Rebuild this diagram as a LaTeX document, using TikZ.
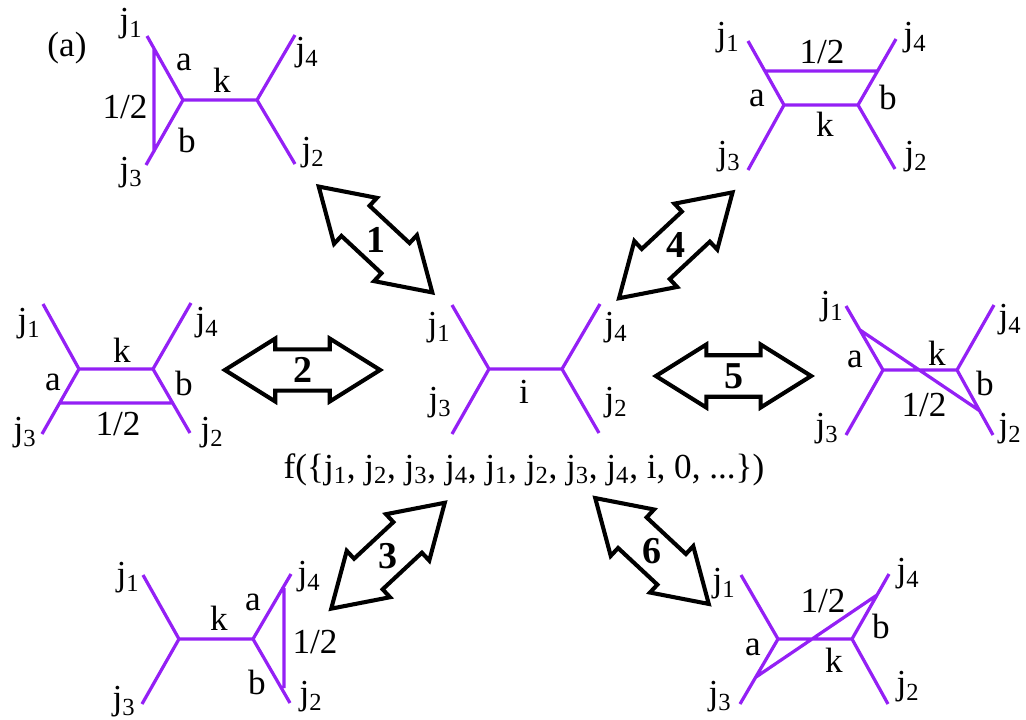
\documentclass[tikz,border=0pt]{standalone}
\usepackage{fontspec}
\setmainfont{Liberation Serif}
\usepackage{xcolor}
\usepackage{tikz}
\usetikzlibrary{shapes.arrows}
\definecolor{linepurple}{HTML}{9420F5}
\newcommand{\jsub}[1]{j\textsubscript{#1}}

\begin{document}
\begin{tikzpicture}[
  x=0.025cm, y=-0.025cm,
  edge/.style    = {linepurple, line width=2.3pt},
  label/.style   = {font=\fontsize{25}{28}\selectfont, inner sep=0pt},
  dblarrow/.style = {draw=black, line width=2.9pt, shape=double arrow, inner sep=0pt,
                    minimum height=3.88cm, minimum width=1.28cm,
                    double arrow head extend=0.27cm, double arrow tip angle=64,
                    shape border uses incircle, font=\fontsize{27}{30}\selectfont\bfseries}
]
\useasboundingbox (0,0) rectangle (1026,719);

% ── Centre graph ─────────────────────────────────────────────────────────────
\coordinate (ca) at (489,369);
\coordinate (cb) at (562,369);
\coordinate (c1) at (452,305);
\coordinate (c3) at (452,434);
\coordinate (c4) at (600,304);
\coordinate (c2) at (599,433);
\draw[edge] (c1) -- (ca) -- (c3) (ca) -- (cb) (c4) -- (cb) -- (c2);
\node[label] (cj1) at (439,328) {\jsub{1}};
\node[label] (cj3) at (440,403) {\jsub{3}};
\node[label] (cj4) at (616,328) {\jsub{4}};
\node[label] (cj2) at (616,403) {\jsub{2}};
\node[label] (ci)  at (524,392) {i};
\node[label] (cf)  at (524,470)
  {f(\{\jsub{1}, \jsub{2}, \jsub{3}, \jsub{4}, \jsub{1}, \jsub{2}, \jsub{3}, \jsub{4}, i, 0, ...\})};

% ── Top left graph ───────────────────────────────────────────────────────────
\coordinate (ta) at (183,100);
\coordinate (tb) at (257,100);
\coordinate (t1) at (147,36);
\coordinate (t3) at (146,165);
\coordinate (t4) at (295,35);
\coordinate (t2) at (295,164);
\coordinate (tu) at (154,48);
\coordinate (tv) at (154,152);
\draw[edge] (t1) -- (ta) -- (t3) (ta) -- (tb) (t4) -- (tb) -- (t2) (tu) -- (tv);
\node[label] (tlabel) at (67,48) {(a)};
\node[label] (tj1) at (131,24)  {\jsub{1}};
\node[label] (tj3) at (131,173) {\jsub{3}};
\node[label] (tj4) at (307,53)  {\jsub{4}};
\node[label] (tj2) at (313,153) {\jsub{2}};
\node[label] (tla) at (184,62)  {a};
\node[label] (tlb) at (187,140) {b};
\node[label] (tlk) at (222,80)  {k};
\node[label] (tlh) at (125,107) {1/2};

% ── Top right graph ──────────────────────────────────────────────────────────
\coordinate (ra) at (784,105);
\coordinate (rb) at (858,105);
\coordinate (r1) at (748,41);
\coordinate (r3) at (748,170);
\coordinate (r4) at (896,39);
\coordinate (r2) at (895,169);
\coordinate (ru) at (766,71);
\coordinate (rv) at (877,71);
\draw[edge] (r1) -- (ra) -- (r3) (ra) -- (rb) (r4) -- (rb) -- (r2) (ru) -- (rv);
\node[label] (rj1) at (728,38)  {\jsub{1}};
\node[label] (rj3) at (729,157) {\jsub{3}};
\node[label] (rj4) at (915,38)  {\jsub{4}};
\node[label] (rj2) at (916,157) {\jsub{2}};
\node[label] (rla) at (757,98)  {a};
\node[label] (rlb) at (888,97)  {b};
\node[label] (rlk) at (825,124) {k};
\node[label] (rlh) at (822,52)  {1/2};

% ── Middle left graph ────────────────────────────────────────────────────────
\coordinate (la) at (79,369);
\coordinate (lb) at (153,369);
\coordinate (l1) at (43,304);
\coordinate (l3) at (42,434);
\coordinate (l4) at (191,303);
\coordinate (l2) at (190,433);
\coordinate (lu) at (59,403);
\coordinate (lv) at (173,403);
\draw[edge] (l1) -- (la) -- (l3) (la) -- (lb) (l4) -- (lb) -- (l2) (lu) -- (lv);
\node[label] (lj1) at (29,324)  {\jsub{1}};
\node[label] (lj3) at (25,433)  {\jsub{3}};
\node[label] (lj4) at (207,323) {\jsub{4}};
\node[label] (lj2) at (212,433) {\jsub{2}};
\node[label] (lla) at (53,382)  {a};
\node[label] (llb) at (184,383) {b};
\node[label] (llk) at (122,350) {k};
\node[label] (llh) at (118,424) {1/2};

% ── Middle right graph ───────────────────────────────────────────────────────
\coordinate (ma) at (883,370);
\coordinate (mb) at (957,370);
\coordinate (m1) at (846,306);
\coordinate (m3) at (846,435);
\coordinate (m4) at (994,305);
\coordinate (m2) at (993,435);
\coordinate (mu) at (860,330);
\coordinate (mv) at (980,411);
\draw[edge] (m1) -- (ma) -- (m3) (ma) -- (mb) (m4) -- (mb) -- (m2) (mu) -- (mv);
\node[label] (mj1) at (832,307) {\jsub{1}};
\node[label] (mj3) at (827,429) {\jsub{3}};
\node[label] (mj4) at (1010,320) {\jsub{4}};
\node[label] (mj2) at (1010,429) {\jsub{2}};
\node[label] (mla) at (855,359) {a};
\node[label] (mlb) at (985,383) {b};
\node[label] (mlk) at (937,353) {k};
\node[label] (mlh) at (924,405) {1/2};

% ── Bottom left graph ────────────────────────────────────────────────────────
\coordinate (ba) at (179,639);
\coordinate (bb) at (253,639);
\coordinate (b1) at (143,575);
\coordinate (b3) at (142,704);
\coordinate (b4) at (291,574);
\coordinate (b2) at (290,703);
\coordinate (bu) at (284,588);
\coordinate (bv) at (284,688);
\draw[edge] (b1) -- (ba) -- (b3) (ba) -- (bb) (b4) -- (bb) -- (b2) (bu) -- (bv);
\node[label] (bj1) at (128,578) {\jsub{1}};
\node[label] (bj3) at (124,702) {\jsub{3}};
\node[label] (bj4) at (309,577) {\jsub{4}};
\node[label] (bj2) at (311,697) {\jsub{2}};
\node[label] (bla) at (253,602) {a};
\node[label] (blb) at (257,682) {b};
\node[label] (blk) at (219,618) {k};
\node[label] (blh) at (315,642) {1/2};

% ── Bottom right graph ───────────────────────────────────────────────────────
\coordinate (da) at (778,639);
\coordinate (db) at (852,639);
\coordinate (d1) at (741,575);
\coordinate (d3) at (740,704);
\coordinate (d4) at (889,574);
\coordinate (d2) at (888,704);
\coordinate (du) at (756,677);
\coordinate (dv) at (877,595);
\draw[edge] (d1) -- (da) -- (d3) (da) -- (db) (d4) -- (db) -- (d2) (du) -- (dv);
\node[label] (dj1) at (724,584) {\jsub{1}};
\node[label] (dj3) at (720,697) {\jsub{3}};
\node[label] (dj4) at (908,574) {\jsub{4}};
\node[label] (dj2) at (908,687) {\jsub{2}};
\node[label] (dla) at (753,647) {a};
\node[label] (dlb) at (881,626) {b};
\node[label] (dlk) at (834,660) {k};
\node[label] (dlh) at (823,601) {1/2};

% ── Double arrows ────────────────────────────────────────────────────────────
\node[dblarrow, shape border rotate=-43] (arrone)   at (375.5,239.5) {1};
\node[dblarrow]                          (arrtwo)   at (302.5,370)   {2};
\node[dblarrow, shape border rotate=43]  (arrthree) at (388,555.7)   {3};
\node[dblarrow, shape border rotate=43]  (arrfour)  at (675.8,245.3) {4};
\node[dblarrow]                          (arrfive)  at (733.5,376)   {5};
\node[dblarrow, shape border rotate=-43] (arrsix)   at (652,551)     {6};

\end{tikzpicture}
\end{document}
